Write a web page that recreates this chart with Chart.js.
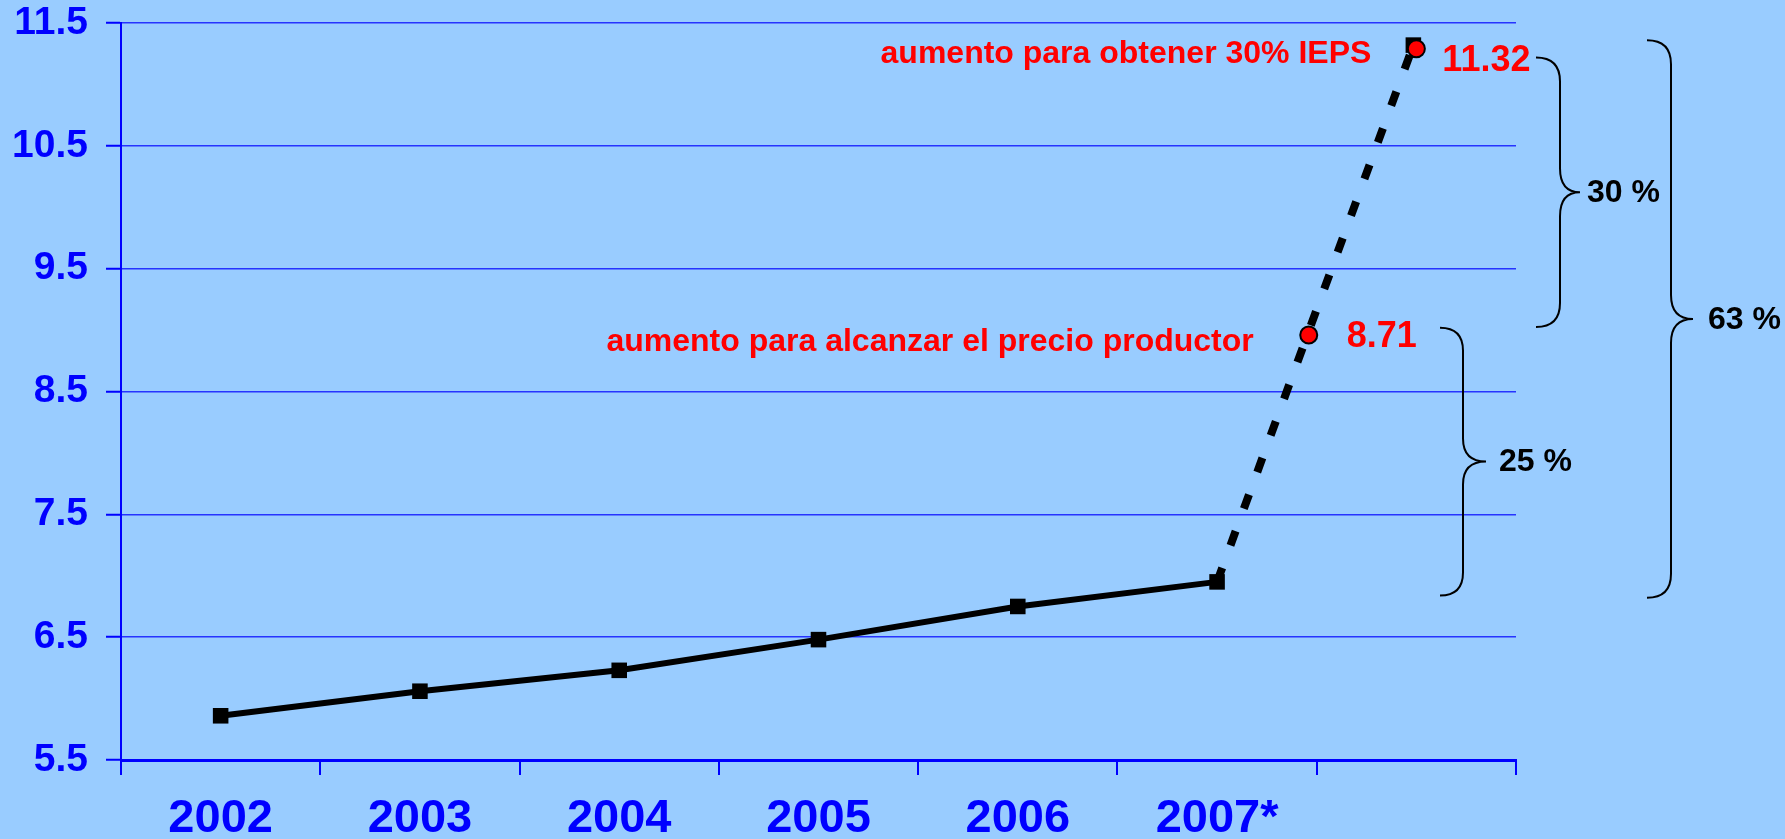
<!DOCTYPE html>
<html lang="es">
<head>
    <meta charset="UTF-8">
    <script src="https://cdn.jsdelivr.net/npm/chart.js"></script>
    <title>Precio</title>
    <style>
        body { margin: 0; background: #99CCFF; }
        canvas { display: block; }
    </style>
</head>
<body>
    <canvas id="precio" width="1785" height="839"></canvas>
    <script>
        // categorias y valores
        const years = ['2002', '2003', '2004', '2005', '2006', '2007*', ''];
        const yearPos = [0.5, 1.5, 2.5, 3.5, 4.5, 5.5];
        const precio = [5.86, 6.06, 6.23, 6.48, 6.75, 6.95];
        const proyX = [5.5, 6.485];
        const proyY = [6.95, 11.32];
        const metaX = [5.96, 6.5];
        const metaY = [8.96, 11.29];
        const metaTxt = ['8.71', '11.32'];
        const notas = ['aumento para alcanzar el precio productor', 'aumento para obtener 30% IEPS'];
        const yTicks = [5.5, 6.5, 7.5, 8.5, 9.5, 10.5, 11.5];
        const llaveDe = [9.02, 11.22, 11.36];
        const llaveA = [6.84, 9.025, 6.82];
        const llaveTxt = ['25 %', '30 %', '63 %'];

        const FONT = "'Liberation Sans', Arial, sans-serif";
        const BLUE = '#0000FF';

        const pts = (xs, ys) => xs.map((x, i) => ({ x: x, y: ys[i] }));

        // curly brace that opens to the left
        function brace(ctx, xEnd, xMid, xTip, yTop, yBot) {
            const yMid = (yTop + yBot) / 2;
            const r = xMid - xEnd;
            ctx.beginPath();
            ctx.moveTo(xEnd, yTop);
            ctx.quadraticCurveTo(xMid, yTop, xMid, yTop + r);
            ctx.lineTo(xMid, yMid - r);
            ctx.quadraticCurveTo(xMid, yMid, xTip, yMid);
            ctx.quadraticCurveTo(xMid, yMid, xMid, yMid + r);
            ctx.lineTo(xMid, yBot - r);
            ctx.quadraticCurveTo(xMid, yBot, xEnd, yBot);
            ctx.stroke();
            return yMid;
        }

        const notes = {
            id: 'notes',
            afterDatasetsDraw(chart) {
                const ctx = chart.ctx;
                const xs = chart.scales.xv, ys = chart.scales.y;
                const right = chart.chartArea.right;
                ctx.save();
                ctx.fillStyle = '#FF0000';
                ctx.textBaseline = 'alphabetic';
                // value labels next to the red dots
                ctx.font = 'bold 36px ' + FONT;
                ctx.textAlign = 'left';
                ctx.fillText(metaTxt[0], xs.getPixelForValue(metaX[0]) + 38, ys.getPixelForValue(metaY[0]) + 12);
                ctx.fillText(metaTxt[1], xs.getPixelForValue(metaX[1]) + 26, ys.getPixelForValue(metaY[1]) + 22);
                ctx.font = 'bold 32px ' + FONT;
                ctx.textAlign = 'right';
                ctx.fillText(notas[0], xs.getPixelForValue(metaX[0]) - 55, ys.getPixelForValue(metaY[0]) + 16);
                ctx.fillText(notas[1], xs.getPixelForValue(metaX[1]) - 45, ys.getPixelForValue(metaY[1]) + 14);

                // braces
                ctx.strokeStyle = '#000';
                ctx.lineWidth = 2;
                ctx.fillStyle = '#000';
                ctx.textAlign = 'left';
                ctx.textBaseline = 'middle';
                const geo = [[-76, -53, -30, 13], [20, 44, 64, 7], [131, 155, 177, 15]];
                geo.forEach((g, i) => {
                    const ym = brace(ctx, right + g[0], right + g[1], right + g[2],
                        ys.getPixelForValue(llaveDe[i]), ys.getPixelForValue(llaveA[i]));
                    ctx.fillText(llaveTxt[i], right + g[2] + g[3], ym + 1);
                });
                ctx.restore();
            }
        };

        new Chart(document.getElementById('precio'), {
            type: 'line',
            data: {
                labels: years,
                datasets: [{
                    type: 'scatter',
                    data: pts(metaX, metaY),
                    xAxisID: 'xv',
                    pointRadius: 8.5,
                    pointBackgroundColor: '#FF0000',
                    pointBorderColor: '#000',
                    pointBorderWidth: 2,
                    showLine: false
                }, {
                    data: pts(proyX, proyY),
                    xAxisID: 'xv',
                    borderColor: '#000',
                    borderWidth: 8,
                    borderDash: [15, 24],
                    pointStyle: 'rect',
                    pointRadius: [0, 11],
                    pointBorderWidth: 0,
                    pointBackgroundColor: '#000'
                }, {
                    data: pts(yearPos, precio),
                    xAxisID: 'xv',
                    borderColor: '#000',
                    borderWidth: 6,
                    pointStyle: 'rect',
                    pointRadius: 11,
                    pointBorderWidth: 0,
                    pointBackgroundColor: '#000'
                }]
            },
            options: {
                responsive: false,
                animation: false,
                events: [],
                layout: { padding: { left: 0, top: 23, right: 269, bottom: 0 } },
                plugins: { legend: { display: false }, tooltip: { enabled: false } },
                scales: {
                    xv: { type: 'linear', display: false, min: 0, max: 7 },
                    x: {
                        type: 'category',
                        position: 'bottom',
                        offset: true,
                        afterFit: s => { s.height = 79; s.paddingLeft = 0; s.paddingRight = 0; },
                        border: { display: true, color: BLUE, width: 3 },
                        grid: { offset: true, drawOnChartArea: false, drawTicks: true, tickLength: 15, color: BLUE, lineWidth: 2 },
                        ticks: { color: BLUE, font: { family: FONT, size: 47, weight: 'bold' }, padding: 16, maxRotation: 0, autoSkip: false }
                    },
                    y: {
                        min: 5.5,
                        max: 11.5,
                        afterBuildTicks: s => { s.ticks = yTicks.map(v => ({ value: v })); },
                        afterFit: s => { s.width = 121; s.paddingTop = 0; s.paddingBottom = 0; },
                        border: { display: true, color: BLUE, width: 2 },
                        grid: { color: 'rgba(0,0,255,0.75)', lineWidth: 1.5, tickLength: 15, tickColor: BLUE, tickWidth: 2 },
                        ticks: { color: BLUE, font: { family: FONT, size: 39, weight: 'bold' }, padding: 18, callback: v => v.toFixed(1) }
                    }
                }
            },
            plugins: [notes]
        });
    </script>
</body>
</html>
